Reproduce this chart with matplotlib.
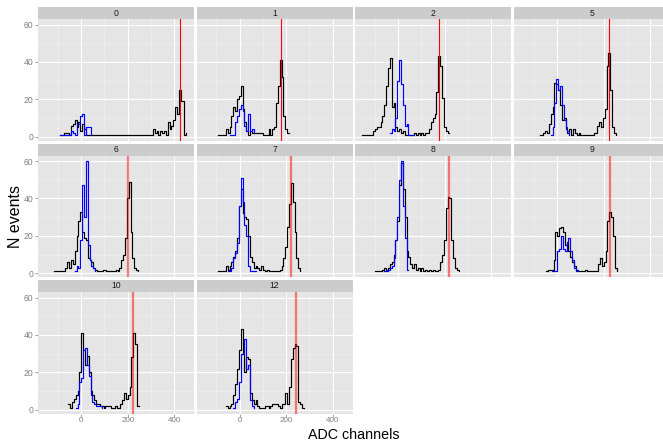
import matplotlib
matplotlib.use("Agg")
import matplotlib.pyplot as plt
import numpy as np

plt.rcParams["font.family"] = ["Liberation Sans", "DejaVu Sans"]

# ADC histogram: bin width in channels
BIN = 8

panel_names = ["0", "1", "2", "5", "6", "7", "8", "9", "10", "12"]

# first-bin position (ADC channels) for each panel's black / blue histogram
black_start = [-92, -92, -156, -76, -116, -92, -100, -48, -56, -60]
blue_start = [-92, -44, -36, -28, -28, -52, -60, -24, -24, -28]

# reference channel marker (red line) per panel
red_pos = [426, 177, 177, 221, 201, 222, 217, 227, 224, 242]

# counts per bin (0 = empty bin, not drawn)
black_p0 = [1, 1, 2, 2, 2, 1, 6, 7, 9, 5, 8, 3, 7, 4, 1,
            0, 0, 0, 0, 0, 0, 0, 0, 0, 0, 0, 0, 0, 0, 0, 0, 0, 0,
            0, 0, 0, 0, 0, 0, 0, 0, 0, 0, 0, 0, 0, 0, 0, 0, 0,
            4, 2, 3, 1, 3, 2, 3, 1, 8, 4, 6, 9, 16, 12, 25, 19, 19, 1, 2]
blue_p0 = [1, 1, 1, 1, 1, 1, 3, 2, 1, 7, 7, 11, 12, 1, 5, 5, 5, 1]

black_p1 = [1, 1, 1, 1, 4, 2, 5, 11, 16, 14, 20, 22, 27, 15, 8, 3, 1, 3, 2,
            2, 2, 2, 2, 2, 1, 1, 1, 4, 1, 4, 5, 18, 27, 41, 32, 11, 4, 2, 2]
blue_p1 = [1, 1, 1, 8, 11, 15, 17, 14, 6, 3, 12, 3, 4, 2]

black_p2 = [1, 1, 1, 1, 1, 1, 3, 4, 5, 5, 8, 11, 17, 27, 37, 42, 16, 18, 5, 3,
            4, 2, 3, 1, 1, 1, 1, 1, 2, 1, 2, 1, 2, 1, 2, 2, 4, 8, 10, 12,
            24, 43, 38, 21, 5, 3, 2, 2]
blue_p2 = [2, 4, 3, 10, 30, 41, 28, 17, 6, 7, 1, 1, 1, 1]

black_p5 = [1, 1, 2, 3, 2, 7, 12, 16, 29, 28, 25, 17, 9, 10, 4, 2, 4, 1, 4, 2,
            1, 2, 1, 1, 1, 1, 1, 1, 1, 2, 2, 6, 8, 5, 10, 15, 38, 45, 25, 5, 2, 1]
blue_p5 = [1, 5, 18, 31, 25, 27, 17, 9, 5, 3, 1]

black_p6 = [1, 1, 1, 1, 1, 1, 3, 6, 3, 7, 5, 12, 20, 28, 33, 22, 19, 18, 8, 7,
            6, 3, 2, 1, 1, 1, 2, 2, 1, 1, 1, 1, 1, 2, 1, 3, 7, 10, 19, 40,
            49, 22, 8, 3, 2, 1]
blue_p6 = [1, 4, 3, 18, 47, 30, 60, 15, 7, 4, 3, 1]

black_p7 = [1, 1, 1, 1, 4, 2, 4, 6, 9, 12, 19, 36, 45, 32, 30, 29, 20, 9, 6, 3,
            4, 3, 2, 4, 2, 1, 2, 1, 1, 1, 1, 1, 1, 2, 4, 8, 14, 25, 37, 48,
            38, 22, 8, 3, 1]
blue_p7 = [1, 1, 3, 8, 11, 16, 36, 51, 38, 26, 20, 4, 1, 1, 1, 1]

black_p8 = [1, 1, 1, 1, 2, 3, 2, 3, 5, 6, 10, 18, 28, 47, 59, 45, 30, 12, 9, 5,
            3, 5, 2, 3, 1, 3, 1, 2, 1, 2, 1, 2, 1, 1, 2, 6, 10, 18, 35, 41,
            40, 18, 8, 3, 2, 1]
blue_p8 = [1, 1, 2, 3, 4, 8, 18, 30, 50, 60, 36, 19, 2, 2]

black_p9 = [1, 2, 2, 2, 7, 22, 20, 24, 25, 22, 15, 16, 12, 9, 6, 4, 2, 1, 1, 1,
            1, 2, 1, 1, 1, 1, 1, 1, 5, 8, 4, 6, 12, 28, 33, 30, 20, 3, 1]
blue_p9 = [1, 1, 1, 12, 13, 20, 13, 12, 17, 19, 12, 7, 3, 1, 1]

black_p10 = [3, 1, 4, 6, 8, 10, 20, 41, 32, 24, 29, 20, 10, 8, 5, 3, 3, 2, 2, 1,
             2, 2, 2, 1, 1, 2, 1, 1, 3, 5, 9, 6, 8, 12, 28, 41, 35, 2, 2]
blue_p10 = [1, 3, 15, 17, 32, 33, 24, 18, 8, 4, 3, 2, 2, 2, 1]

black_p12 = [2, 1, 2, 3, 8, 14, 22, 32, 43, 30, 20, 28, 27, 9, 5, 3, 5, 2, 1, 1,
             1, 2, 2, 1, 2, 3, 3, 3, 2, 1, 3, 3, 9, 3, 12, 27, 33, 35, 34, 4,
             3, 1, 1]
blue_p12 = [1, 4, 6, 15, 30, 30, 38, 22, 24, 5, 2, 1]

black_counts = [black_p0, black_p1, black_p2, black_p5, black_p6,
                black_p7, black_p8, black_p9, black_p10, black_p12]
blue_counts = [blue_p0, blue_p1, blue_p2, blue_p5, blue_p6,
               blue_p7, blue_p8, blue_p9, blue_p10, blue_p12]

x_major = [0, 200, 400]
x_minor = [-100, 100, 300]
y_major = [0, 20, 40, 60]
y_minor = [10, 30, 50]

W, H = 663, 442
fig = plt.figure(figsize=(W / 100, H / 100), dpi=100)
fig.patch.set_facecolor("white")

col_left = [38, 196.5, 355, 514]
row_top = [7, 143.5, 280]
pw, strip_h, ph = 156, 12, 121.5

GRID_MAJ = "white"
GRID_MIN = "#F2F2F2"
TXT = "#7F7F7F"


def points(start, counts):
    x = start + BIN * np.arange(len(counts))
    y = np.asarray(counts, dtype=float)
    keep = y > 0
    return x[keep], y[keep]


for i, name in enumerate(panel_names):
    r, c = divmod(i, 4)
    top = row_top[r]
    left = col_left[c]
    ax = fig.add_axes([left / W, 1 - (top + strip_h + ph) / H, pw / W, ph / H])
    sx = fig.add_axes([left / W, 1 - (top + strip_h) / H, pw / W, strip_h / H])
    sx.set_facecolor("#CCCCCC")
    sx.set_xticks([]); sx.set_yticks([])
    for s in sx.spines.values():
        s.set_visible(False)
    sx.text(0.5, 0.5, name, ha="center", va="center", fontsize=6.2,
            color="#1A1A1A", transform=sx.transAxes)

    ax.set_facecolor("#E5E5E5")
    for s in ax.spines.values():
        s.set_visible(False)
    ax.set_xlim(-186, 485)
    ax.set_ylim(-1.95, 62.95)
    ax.set_xticks(x_major)
    ax.set_xticks(x_minor, minor=True)
    ax.set_yticks(y_major)
    ax.set_yticks(y_minor, minor=True)
    ax.grid(which="major", color=GRID_MAJ, lw=0.8)
    ax.grid(which="minor", color=GRID_MIN, lw=0.4)
    ax.set_axisbelow(True)
    ax.tick_params(which="minor", length=0)
    ax.tick_params(which="major", length=2.2, width=0.5, color=TXT,
                   labelcolor=TXT, labelsize=6.2, pad=1.2)
    ax.tick_params(axis="x", which="major", length=2.0, pad=0.6, labelsize=5.8)

    if c != 0:
        ax.tick_params(axis="y", which="major", left=False, labelleft=False)
    if not (r == 2):
        ax.tick_params(axis="x", which="major", bottom=False, labelbottom=False)

    bx, by = points(black_start[i], black_counts[i])
    ax.step(bx, by, where="post", color="black", lw=0.85, zorder=3)
    ux, uy = points(blue_start[i], blue_counts[i])
    ax.step(ux, uy, where="post", color="blue", lw=0.85, zorder=4)

    if r == 0:
        ax.axvline(red_pos[i], color="red", lw=0.8, zorder=5)
    else:
        ax.axvline(red_pos[i], color="red", lw=1.6, alpha=0.5, zorder=5)

fig.text(16 / W, 1 - 217 / H, "N events", rotation=90, ha="center",
         va="center", fontsize=11.5, color="black")
fig.text(354 / W, 1 - 439 / H, "ADC channels", ha="center", va="baseline",
         fontsize=10.3, color="black")

fig.savefig("out.png", dpi=100, facecolor="white")
